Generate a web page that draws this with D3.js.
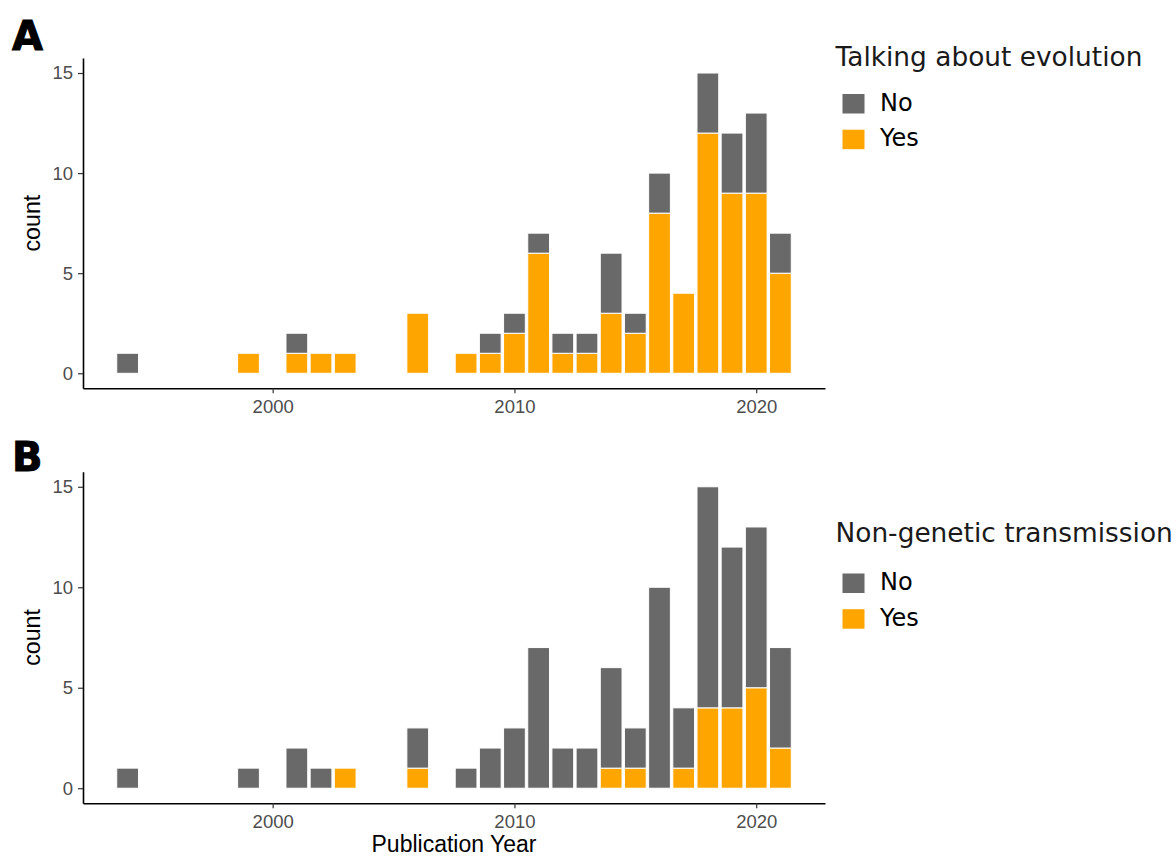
<!DOCTYPE html>
<html>
<head>
<meta charset="utf-8">
<script src="https://cdn.jsdelivr.net/npm/d3@7"></script>
<style>
  html, body { margin: 0; padding: 0; background: #fff; }
  svg { display: block; }
</style>
</head>
<body>
<svg id="chart" width="1176" height="857"></svg>
<script>
// ---- Data ----
const years = [1994, 1999, 2001, 2002, 2003, 2006, 2008, 2009, 2010, 2011, 2012, 2013, 2014, 2015, 2016, 2017, 2018, 2019, 2020, 2021];
const totals = [1, 1, 2, 1, 1, 3, 1, 2, 3, 7, 2, 2, 6, 3, 10, 4, 15, 12, 13, 7];
// Panel A: "Talking about evolution" = Yes
const evolutionYes = [0, 1, 1, 1, 1, 3, 1, 1, 2, 6, 1, 1, 3, 2, 8, 4, 12, 9, 9, 5];
// Panel B: "Non-genetic transmission" = Yes
const transmissionYes = [0, 0, 0, 0, 1, 1, 0, 0, 0, 0, 0, 0, 1, 1, 0, 1, 4, 4, 5, 2];
const categories = ["No", "Yes"];
const xTicks = [2000, 2010, 2020];
const yTicks = [0, 5, 10, 15];
const panelLabels = ["A", "B"];
const legendTitles = ["Talking about evolution", "Non-genetic transmission"];
const xTitle = "Publication Year";
const yTitle = "count";

const colors = { No: "#696969", Yes: "#FFA500" };

const svg = d3.select("#chart");
const left = 83, right = 825;
const barWidth = 0.9;

const x = d3.scaleLinear()
  .domain([1993.55 - 0.05 * 27.9, 2021.45 + 0.05 * 27.9])
  .range([left, right]);

const panels = [
  { top: 58, bottom: 388.3, yes: evolutionYes, label: panelLabels[0], legend: legendTitles[0], labelY: 50, legendY: 66, keyTop: 94, showXTitle: false },
  { top: 471.7, bottom: 803.3, yes: transmissionYes, label: panelLabels[1], legend: legendTitles[1], labelY: 471, legendY: 541.7, keyTop: 573.5, showXTitle: true }
];

panels.forEach(p => {
  const g = svg.append("g");
  const y = d3.scaleLinear().domain([-0.75, 15.75]).range([p.bottom, p.top]);

  const rows = years.map((yr, i) => ({ year: yr, Yes: p.yes[i], No: totals[i] - p.yes[i] }));
  const stack = d3.stack().keys(["Yes", "No"])(rows);

  const bw = x(barWidth) - x(0);
  stack.forEach(layer => {
    g.append("g").selectAll("rect")
      .data(layer.filter(d => d[1] - d[0] > 0))
      .join("rect")
      .attr("x", d => x(d.data.year) - bw / 2)
      .attr("width", bw)
      .attr("y", d => y(d[1]))
      .attr("height", d => y(d[0]) - y(d[1]))
      .attr("fill", colors[layer.key])
      .attr("stroke", "#ffffff")
      .attr("stroke-width", 1);
  });

  // x axis
  const xAxis = g.append("g")
    .attr("transform", `translate(0,${p.bottom})`)
    .call(d3.axisBottom(x).tickValues(xTicks).tickFormat(d3.format("d")).tickSize(5).tickPadding(4).tickSizeOuter(0));
  xAxis.select(".domain").attr("stroke", "#000").attr("stroke-width", 1.6);
  xAxis.selectAll(".tick line").attr("stroke", "#333").attr("stroke-width", 1.2);
  xAxis.selectAll(".tick text")
    .attr("font-family", "Liberation Sans, Arial, sans-serif")
    .attr("font-size", 18.5)
    .attr("fill", "#4d4d4d")
    .attr("dy", null)
    .attr("y", 24.5)
    .attr("dominant-baseline", "auto");

  // y axis
  const yAxis = g.append("g")
    .attr("transform", `translate(${left},0)`)
    .call(d3.axisLeft(y).tickValues(yTicks).tickSize(5).tickPadding(5).tickSizeOuter(0));
  yAxis.select(".domain").attr("stroke", "#000").attr("stroke-width", 1.6);
  yAxis.selectAll(".tick line").attr("stroke", "#333").attr("stroke-width", 1.2);
  yAxis.selectAll(".tick text")
    .attr("font-family", "Liberation Sans, Arial, sans-serif")
    .attr("font-size", 18.5)
    .attr("fill", "#4d4d4d");

  // y title
  g.append("text")
    .attr("transform", `translate(40,${(p.top + p.bottom) / 2}) rotate(-90)`)
    .attr("text-anchor", "middle")
    .attr("font-family", "Liberation Sans, Arial, sans-serif")
    .attr("font-size", 23.2)
    .attr("fill", "#000")
    .text(yTitle);

  if (p.showXTitle) {
    g.append("text")
      .attr("x", (left + right) / 2)
      .attr("y", 852)
      .attr("text-anchor", "middle")
      .attr("font-family", "Liberation Sans, Arial, sans-serif")
      .attr("font-size", 23)
      .attr("fill", "#000")
      .text(xTitle);
  }

  // panel label
  g.append("text")
    .attr("x", 12)
    .attr("y", p.labelY)
    .attr("font-family", "DejaVu Sans, sans-serif")
    .attr("font-weight", "bold")
    .attr("font-size", 40)
    .attr("fill", "#000")
    .attr("stroke", "#000")
    .attr("stroke-width", 1)
    .text(p.label);

  // legend
  const lg = g.append("g");
  lg.append("text")
    .attr("x", 835.5)
    .attr("y", p.legendY)
    .attr("font-family", "DejaVu Sans, sans-serif")
    .attr("font-size", 26.4)
    .attr("fill", "#1a1a1a")
    .text(p.legend);
  categories.forEach((c, i) => {
    const ky = p.keyTop + i * 35.7;
    lg.append("rect")
      .attr("x", 842.5)
      .attr("y", ky)
      .attr("width", 22)
      .attr("height", 19.5)
      .attr("fill", colors[c]);
    lg.append("text")
      .attr("x", 880)
      .attr("y", ky + 16.5)
      .attr("font-family", "DejaVu Sans, sans-serif")
      .attr("font-size", 24)
      .attr("fill", "#000")
      .text(c);
  });
});
</script>
</body>
</html>
